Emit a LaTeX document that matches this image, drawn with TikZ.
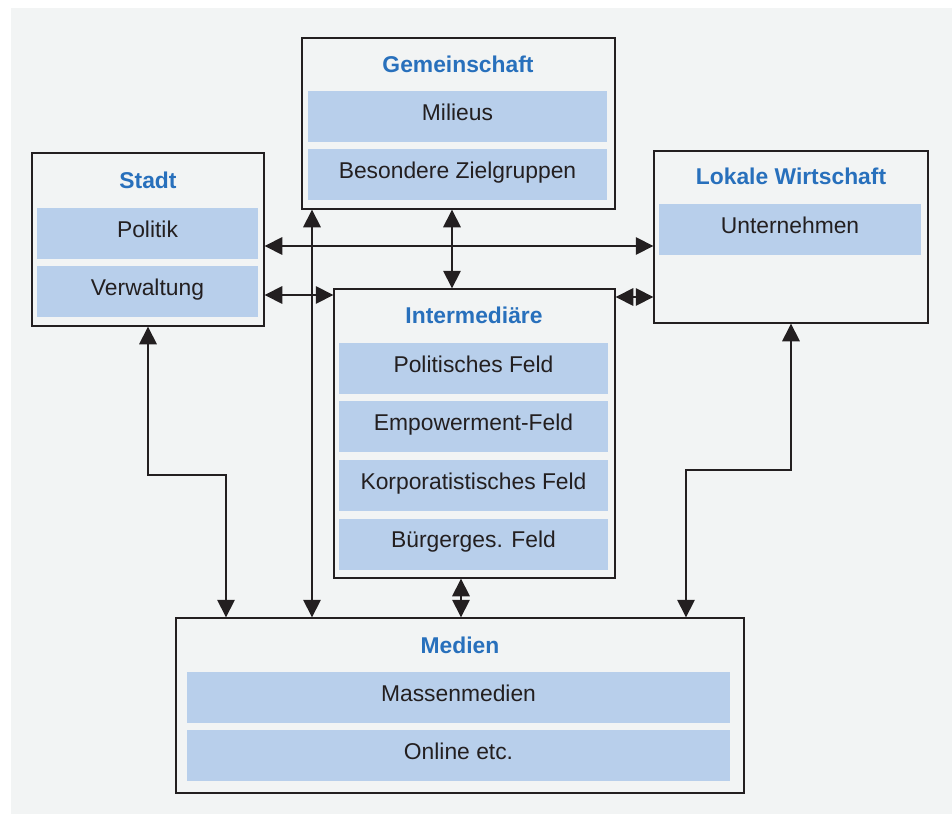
\documentclass[tikz,border=0pt]{standalone}
\usepackage{fontspec}
\setmainfont{Liberation Sans}
\usetikzlibrary{arrows.meta}

\definecolor{bggray}{RGB}{242,244,244}
\definecolor{barblue}{RGB}{184,207,235}
\definecolor{titleblue}{RGB}{40,112,188}
\definecolor{linegray}{RGB}{35,31,32}

\begin{document}
\begin{tikzpicture}[x=0.02cm, y=-0.02cm,
    font=\fontsize{13pt}{15pt}\selectfont, text=linegray,
    outerbox/.style={draw=linegray, line width=0.8pt, inner sep=0pt},
    bar/.style={fill=barblue, inner sep=0pt, minimum height=1.02cm, text height=10pt, text depth=5.6pt},
    title/.style={font=\fontsize{13pt}{15pt}\selectfont\bfseries, text=titleblue},
    link/.style={draw=linegray, line width=0.8pt, {Triangle[length=10pt,width=10pt]}-{Triangle[length=10pt,width=10pt]}}]
        % Fix the size and draw the background
        \useasboundingbox (0,0) rectangle (952,814);
        \fill[bggray] (11,8) rectangle (952,814);

        % Draw the outer boxes
        \node[outerbox, minimum width=6.26cm, minimum height=3.42cm] (gemein) at (458.5,123.5) {};
        \node[outerbox, minimum width=4.64cm, minimum height=3.46cm] (stadt) at (148,239.5) {};
        \node[outerbox, minimum width=5.48cm, minimum height=3.44cm] (lokal) at (791,237) {};
        \node[outerbox, minimum width=5.62cm, minimum height=5.78cm] (inter) at (474.5,433.5) {};
        \node[outerbox, minimum width=11.36cm, minimum height=3.5cm] (medien) at (460,705.5) {};

        % Label the boxes
        \node[title] (gemeintitle) at (458,64) {Gemeinschaft};
        \node[title] (stadttitle) at (148,180) {Stadt};
        \node[title] (lokaltitle) at (791,176) {Lokale Wirtschaft};
        \node[title] (intertitle) at (474,315) {Intermediäre};
        \node[title] (medientitle) at (460,645) {Medien};

        % Draw the bars inside the boxes
        \node[bar, minimum width=5.98cm] (milieus) at (457.5,116.5) {Milieus};
        \node[bar, minimum width=5.98cm] (ziel) at (457.5,174.5) {Besondere Zielgruppen};
        \node[bar, minimum width=4.42cm] (politik) at (147.5,233.5) {Politik};
        \node[bar, minimum width=4.42cm] (verwaltung) at (147.5,291.5) {Verwaltung};
        \node[bar, minimum width=5.24cm] (unternehmen) at (790,229.5) {Unternehmen};
        \node[bar, minimum width=5.38cm] (polfeld) at (473.5,368.5) {Politisches Feld};
        \node[bar, minimum width=5.38cm] (empfeld) at (473.5,426.5) {Empowerment-Feld};
        \node[bar, minimum width=5.38cm] (korpfeld) at (473.5,485.5) {Korporatistisches Feld};
        \node[bar, minimum width=5.38cm] (buergfeld) at (473.5,544) {Bürgerges. Feld};
        \node[bar, minimum width=10.86cm] (massen) at (458.5,697.5) {Massenmedien};
        \node[bar, minimum width=10.86cm] (online) at (458.5,755.5) {Online etc.};

        % Draw the connections
        \draw[link] (stadt.east |- 0,246) -- (lokal.west |- 0,246);
        \draw[link] (stadt.east |- 0,295) -- (inter.west |- 0,295);
        \draw[link] (inter.east |- 0,297) -- (lokal.west |- 0,297);
        \draw[link] (gemein.south -| 452,0) -- (inter.north -| 452,0);
        \draw[link] (gemein.south -| 312,0) -- (medien.north -| 312,0);
        \draw[link] (inter.south -| 461,0) -- (medien.north -| 461,0);
        \draw[link] (stadt.south) |- (226,475) -- (medien.north -| 226,0);
        \draw[link] (lokal.south) |- (686,470) -- (medien.north -| 686,0);
\end{tikzpicture}
\end{document}
